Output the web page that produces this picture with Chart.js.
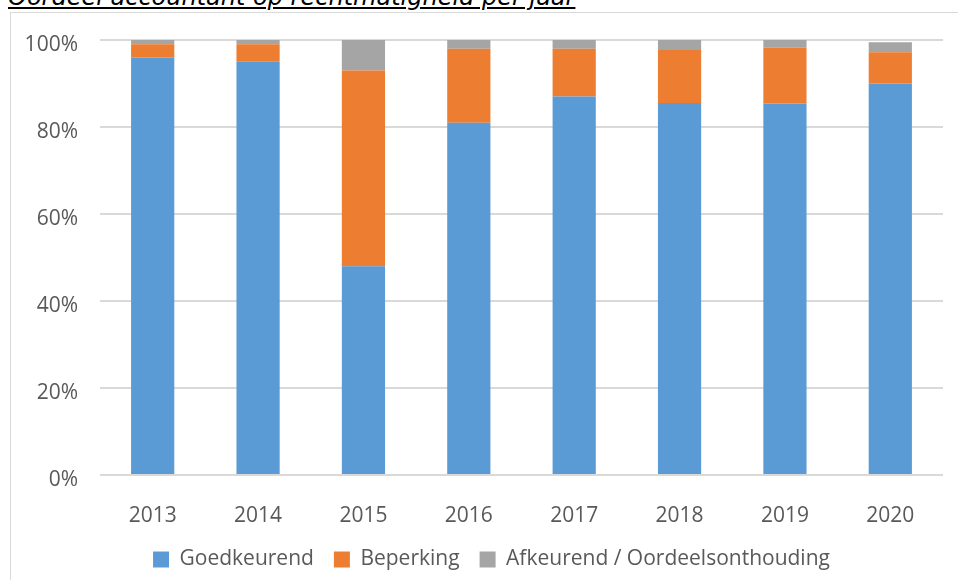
<!DOCTYPE html>
<html>
<head>
<meta charset="utf-8">
<script src="https://cdn.jsdelivr.net/npm/chart.js@4.4.1/dist/chart.umd.min.js"></script>
<style>
  html, body { margin: 0; padding: 0; background: #fff; overflow: hidden; }
  #titel {
    position: absolute; left: 8px; top: -17px;
    font-family: "DejaVu Sans", sans-serif; font-style: italic; font-size: 24px;
    text-decoration: underline; color: #000; white-space: nowrap;
  }
  #kader {
    position: absolute; left: 10px; top: 12px; width: 1000px; height: 700px;
    border-left: 1px solid #d9d9d9; border-top: 1px solid #d9d9d9;
  }
  #wrap { position: absolute; left: 0; top: 0; width: 958px; height: 580px; }
</style>
</head>
<body>
<div id="kader"></div>
<div id="titel">Oordeel accountant op rechtmatigheid per jaar</div>
<div id="wrap"><canvas id="grafiek"></canvas></div>
<script>
// jaren en percentages per oordeel
const jaren = ["2013", "2014", "2015", "2016", "2017", "2018", "2019", "2020"];
const goedkeurend = [96, 95, 48, 81, 87, 85.5, 85.4, 90];
const beperking = [3, 4, 45, 17, 11, 12.2, 12.8, 7.2];
const afkeurend = [1, 1, 7, 2, 2, 2.3, 1.8, 2.3];
const yTicks = [0, 20, 40, 60, 80, 100];

const tekstKleur = "#595959";
const lettertype = "'Open Sans', sans-serif";

// legenda iets naar rechts, zoals in het origineel
const legendaVerschuiving = {
    id: "legendaVerschuiving",
    afterLayout(chart) {
        chart.legend.left += 20;
        chart.legend.right += 20;
    }
};

new Chart(document.getElementById("grafiek"), {
    type: "bar",
    data: {
        labels: jaren,
        datasets: [
            { label: "Goedkeurend", data: goedkeurend, backgroundColor: "#5b9bd5" },
            { label: "Beperking", data: beperking, backgroundColor: "#ed7d31" },
            { label: "Afkeurend / Oordeelsonthouding", data: afkeurend, backgroundColor: "#a5a5a5" }
        ]
    },
    plugins: [legendaVerschuiving],
    options: {
        responsive: true,
        maintainAspectRatio: false,
        animation: false,
        datasets: { bar: { categoryPercentage: 1, barPercentage: 0.41 } },
        layout: { padding: { top: 40, right: 15, left: 0, bottom: 0 } },
        plugins: {
            tooltip: { enabled: false },
            legend: {
                position: "bottom",
                labels: {
                    color: tekstKleur,
                    font: { family: lettertype, size: 21 },
                    boxWidth: 16,
                    boxHeight: 16,
                    padding: 20
                }
            }
        },
        scales: {
            x: {
                stacked: true,
                grid: { display: false },
                border: { display: false },
                ticks: { color: tekstKleur, font: { family: lettertype, size: 21 }, padding: 20 },
                afterFit: (s) => { s.height = 54; }
            },
            y: {
                stacked: true,
                min: 0,
                max: 100,
                afterBuildTicks: (s) => { s.ticks = yTicks.map(v => ({ value: v })); },
                grid: { color: "#d9d9d9", lineWidth: 2, drawTicks: false },
                border: { display: false },
                ticks: {
                    color: tekstKleur,
                    font: { family: lettertype, size: 21 },
                    padding: 22,
                    labelOffset: 5,
                    callback: (v) => v + "%"
                },
                afterFit: (s) => { s.width = 100; }
            }
        }
    }
});
</script>
</body>
</html>
